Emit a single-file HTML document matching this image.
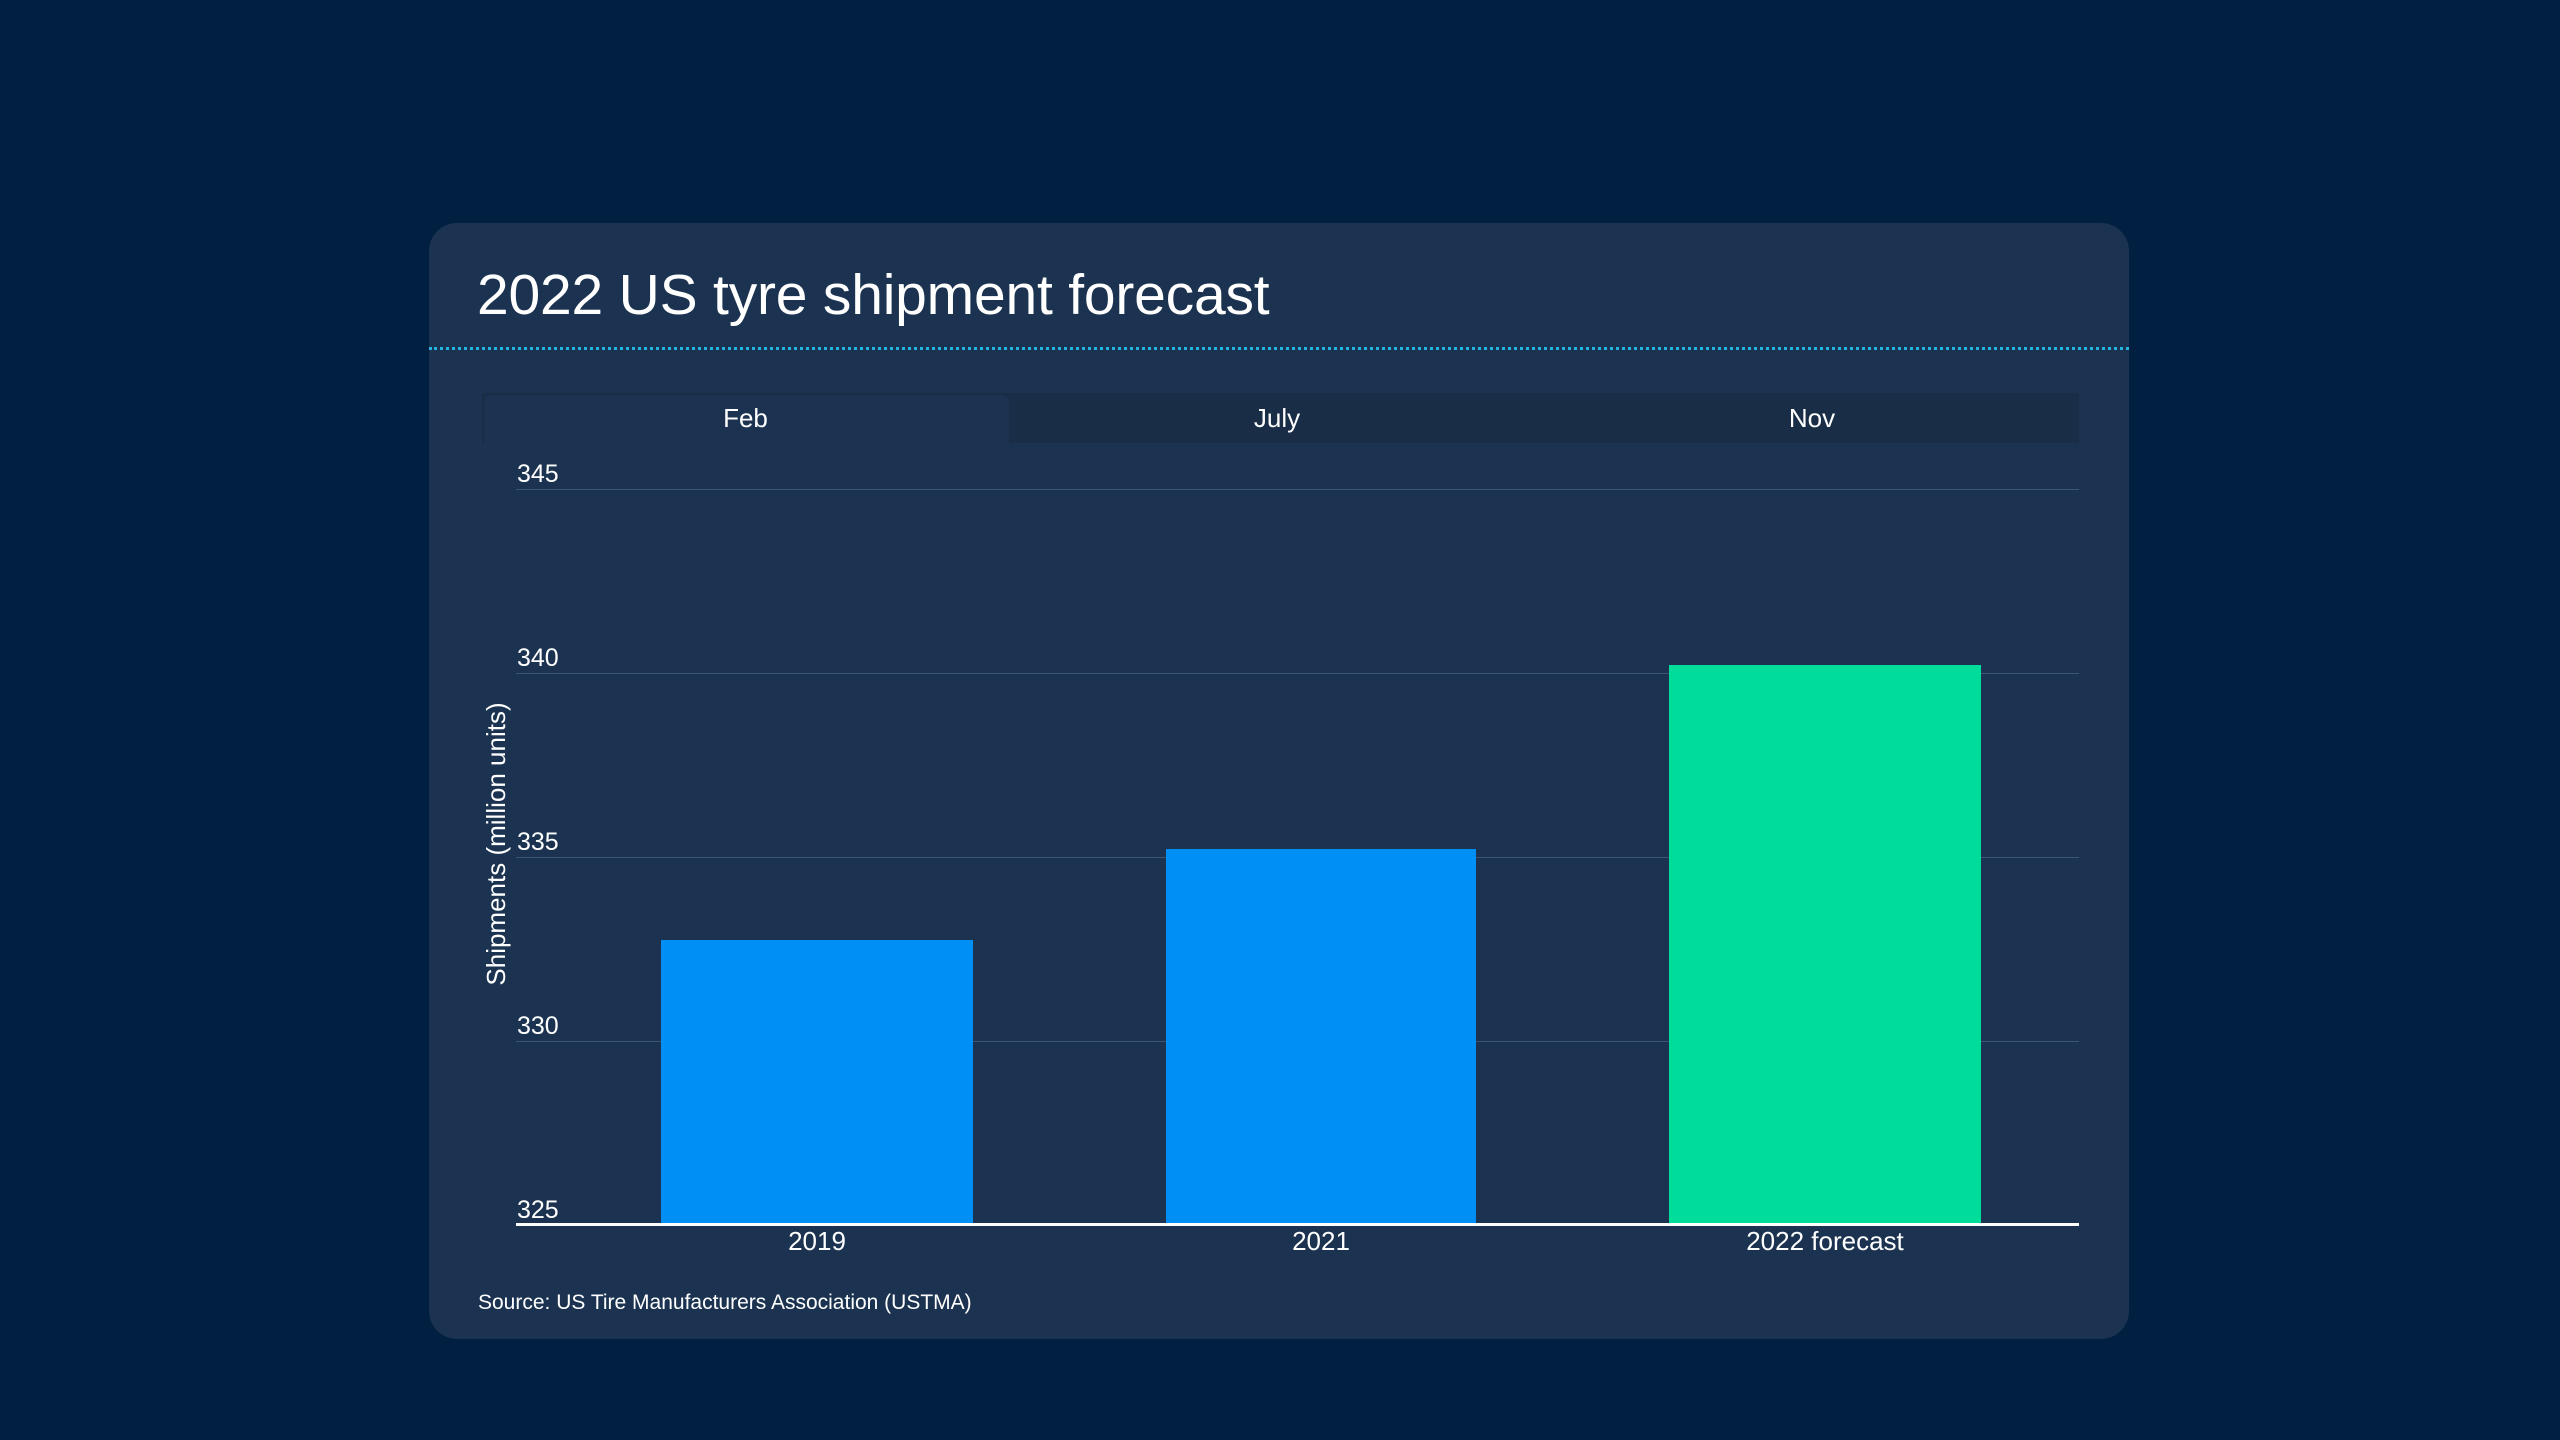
<!DOCTYPE html>
<html><head><style>
html,body{margin:0;padding:0;}
body{width:2560px;height:1440px;background:#001f41;position:relative;overflow:hidden;font-family:"Liberation Sans",sans-serif;color:#fff;}
.card{position:absolute;left:429px;top:223px;width:1700px;height:1116px;background:#1b3350;border-radius:28px;}
.abs{position:absolute;}
.title{left:477px;top:262px;font-size:57px;line-height:66px;letter-spacing:-0.2px;}
.dots{left:429px;top:347px;width:1700px;height:0;border-top:3px dotted #22b6e0;}
.tabs{left:482px;top:393px;width:1597px;height:50px;background:#1a2d47;}
.tab{top:393px;height:50px;line-height:50px;text-align:center;font-size:26px;}
.grid{left:516px;width:1563px;height:1px;background:#3d5672;}
.tick{left:517px;font-size:25px;line-height:25px;}
.bar{position:absolute;}
.xl{top:1224px;font-size:26px;line-height:34px;text-align:center;}
</style></head><body>
<div class="card"></div>
<div class="abs title">2022 US tyre shipment forecast</div>
<div class="abs dots"></div>
<div class="abs tabs"></div>
<div class="abs" style="left:484px;top:395px;width:525px;height:48px;background:#1b3350;border-radius:6px 6px 0 0;"></div>
<div class="abs tab" style="left:482px;width:527px;">Feb</div>
<div class="abs tab" style="left:1009px;width:536px;">July</div>
<div class="abs tab" style="left:1545px;width:534px;">Nov</div>

<div class="abs grid" style="top:489px"></div>
<div class="abs grid" style="top:673px"></div>
<div class="abs grid" style="top:857px"></div>
<div class="abs grid" style="top:1041px"></div>
<div class="abs tick" style="top:462px">345</div>
<div class="abs tick" style="top:646px">340</div>
<div class="abs tick" style="top:830px">335</div>
<div class="abs tick" style="top:1014px">330</div>
<div class="abs tick" style="top:1198px">325</div>

<div class="bar" style="left:661px;width:312px;top:940px;height:285px;background:#008ff5"></div>
<div class="bar" style="left:1166px;width:310px;top:849px;height:376px;background:#008ff5"></div>
<div class="bar" style="left:1669px;width:312px;top:665px;height:560px;background:#00dc9a"></div>
<div class="abs" style="left:516px;top:1223px;width:1563px;height:3px;background:#fff"></div>

<div class="abs xl" style="left:667px;width:300px;">2019</div>
<div class="abs xl" style="left:1171px;width:300px;">2021</div>
<div class="abs xl" style="left:1675px;width:300px;">2022 forecast</div>

<div class="abs" style="left:346px;top:829px;width:300px;text-align:center;font-size:26px;line-height:30px;transform:rotate(-90deg);">Shipments (million units)</div>
<div class="abs" style="left:478px;top:1290px;font-size:21px;line-height:26px;">Source: US Tire Manufacturers Association (USTMA)</div>
</body></html>
